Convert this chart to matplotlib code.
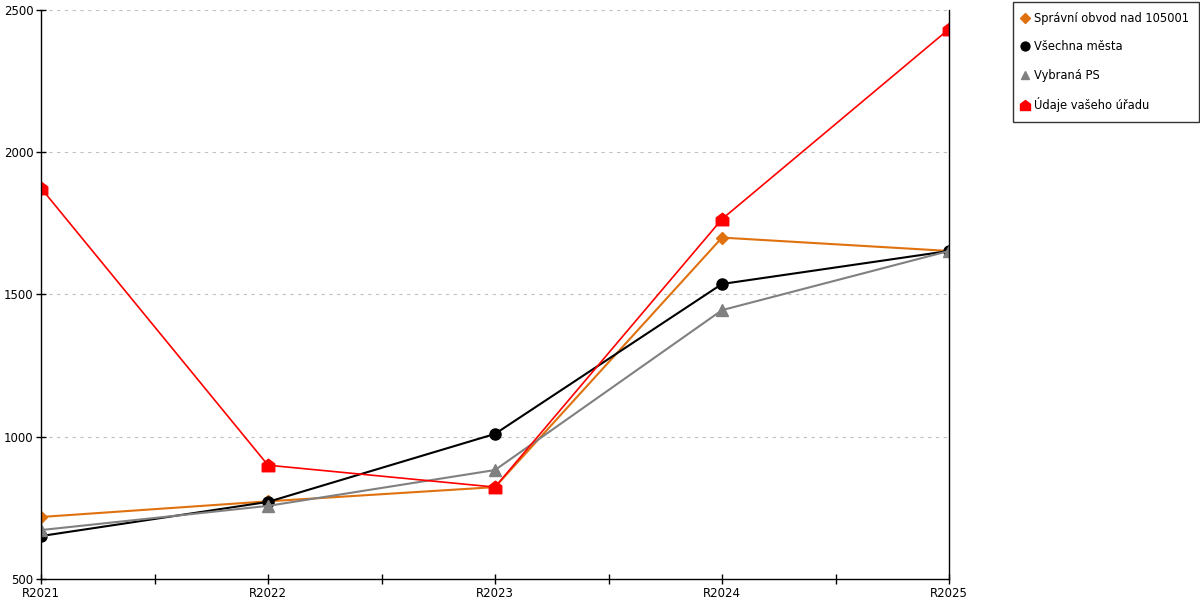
import matplotlib
matplotlib.use('Agg')
import matplotlib.pyplot as plt
from matplotlib.path import Path

years = ['R2021', 'R2022', 'R2023', 'R2024', 'R2025']

spravni_obvod = [718, 773, 823, 1700, 1653]
vsechna_mesta = [651, 771, 1010, 1537, 1653]
vybrana_ps = [672, 757, 883, 1445, 1653]
udaje_uradu = [1874, 900, 823, 1765, 2433]

# house-shaped marker for the red series
house = Path([(-1, -1), (1, -1), (1, 0.25), (0, 1), (-1, 0.25), (-1, -1)],
             [Path.MOVETO, Path.LINETO, Path.LINETO, Path.LINETO, Path.LINETO, Path.CLOSEPOLY])

plt.rcParams['font.family'] = ['DejaVu Sans']

fig = plt.figure(figsize=(12, 6), dpi=100)
ax = fig.add_axes([41 / 1200, 21 / 600, 908 / 1200, 569 / 600])

x = range(len(years))
ax.plot(x, spravni_obvod, color='#e0710f', marker='D', markersize=6, linewidth=1.5,
        label='Správní obvod nad 105001')
ax.plot(x, vsechna_mesta, color='#000000', marker='o', markersize=8, linewidth=1.5,
        label='Všechna města')
ax.plot(x, vybrana_ps, color='#808080', marker='^', markersize=8, linewidth=1.5,
        label='Vybraná PS')
ax.plot(x, udaje_uradu, color='#ff0000', marker=house, markersize=9, linewidth=1.2,
        label='Údaje vašeho úřadu')

ax.set_xlim(0, len(years) - 1)
ax.set_ylim(500, 2500)
ax.set_xticks(list(x))
ax.set_xticklabels(years)
ax.set_xticks([i + 0.5 for i in range(len(years) - 1)], minor=True)
ax.set_yticks([500, 1000, 1500, 2000, 2500])

ax.tick_params(axis='both', which='both', direction='inout', length=7, width=1,
               labelsize=8.5, pad=2)
ax.tick_params(axis='y', right=False)

ax.grid(axis='y', linestyle=(0, (3, 4)), color='#c0c0c0', linewidth=0.8)
ax.set_axisbelow(True)

ax.spines['top'].set_visible(False)
for s in ['left', 'bottom', 'right']:
    ax.spines[s].set_linewidth(1)
    ax.spines[s].set_color('black')

leg = fig.legend(loc='upper left', bbox_to_anchor=(1013 / 1200, 1 - 2 / 600),
                 frameon=True, fancybox=False, edgecolor='black', fontsize=8.3,
                 handlelength=0.3, handletextpad=0.65, labelspacing=1.35,
                 borderpad=0.85, borderaxespad=0, markerscale=0.8)
leg.get_frame().set_linewidth(1)
for h in leg.legend_handles:
    h.set_linestyle('none')

fig.savefig('out.png', dpi=100)
